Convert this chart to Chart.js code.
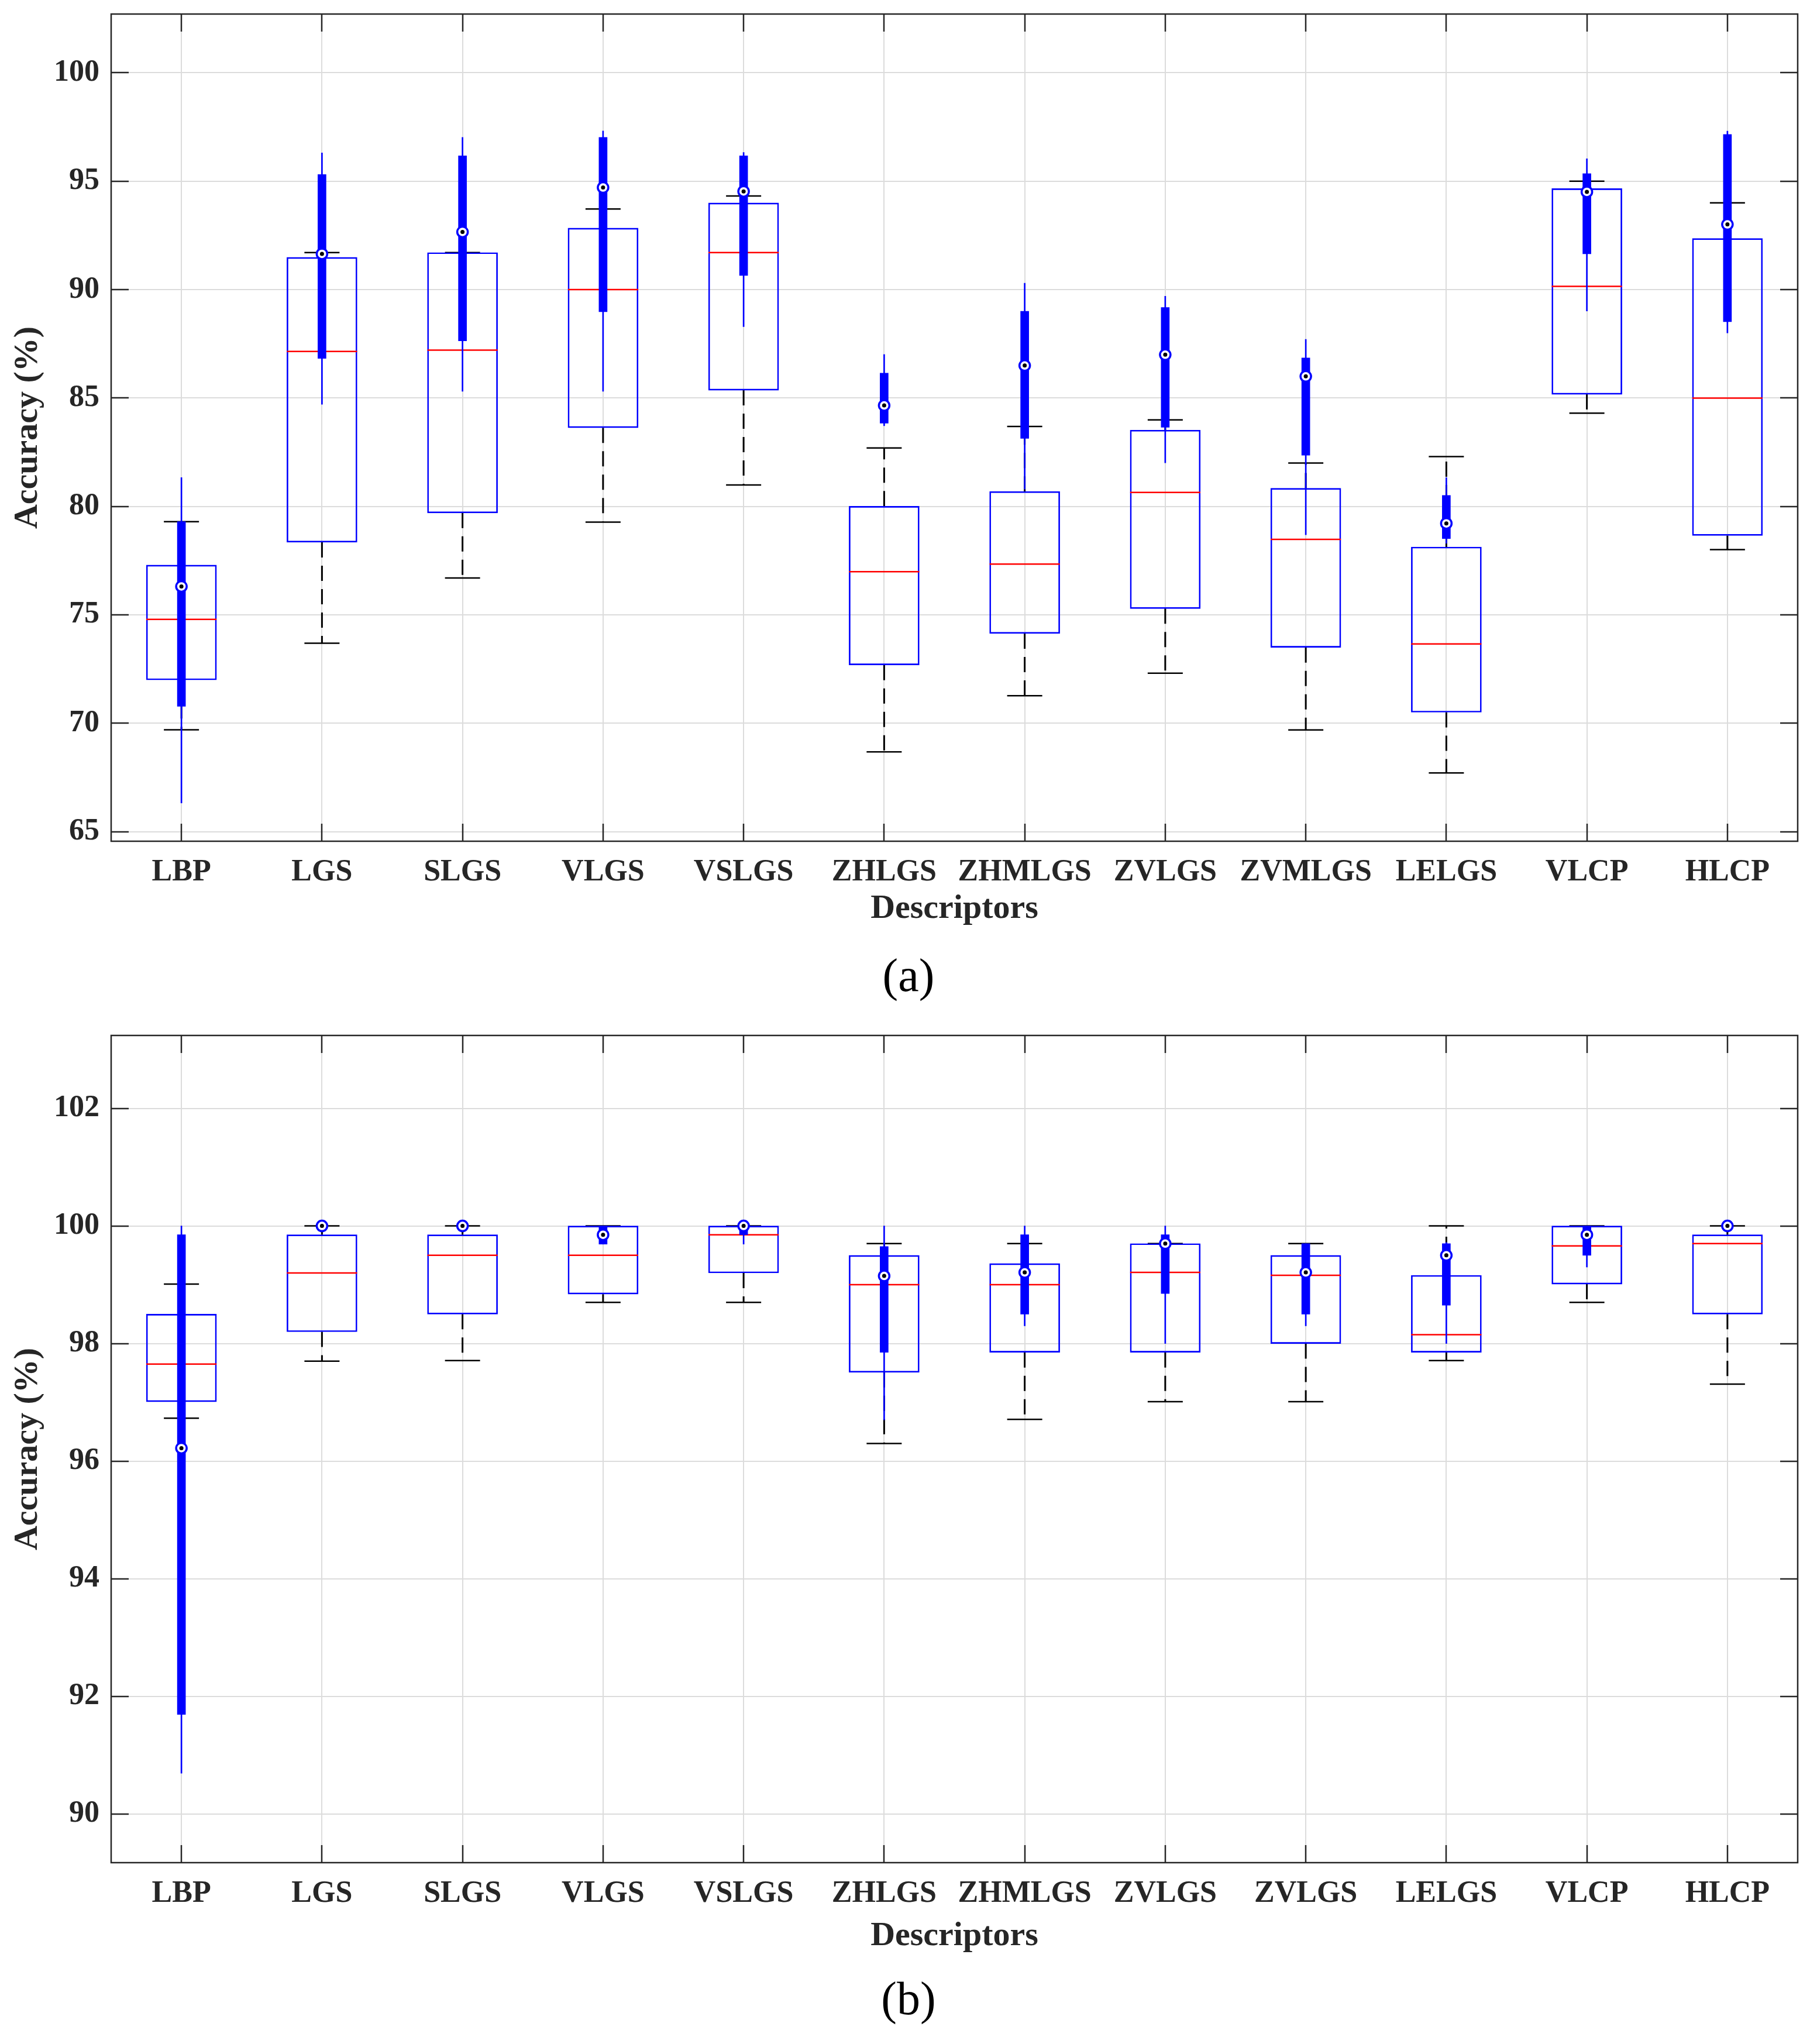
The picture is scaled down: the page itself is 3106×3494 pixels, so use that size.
<!DOCTYPE html>
<html>
<head>
<meta charset="utf-8">
<script src="https://cdn.jsdelivr.net/npm/chart.js@4.4.1/dist/chart.umd.min.js"></script>
<style>
  html, body { margin: 0; padding: 0; background: #fff; }
  body { width: 3106px; height: 3494px; position: relative; overflow: hidden; }
  canvas { position: absolute; left: 0; }
  #chart-a { top: 0; }
  #chart-b { top: 1720px; }
  .caption {
    position: absolute; left: 0; width: 3106px; text-align: center;
    font-family: 'Liberation Serif', serif; font-size: 80px; line-height: 80px; color: #000;
  }
</style>
</head>
<body>
<canvas id="chart-a" width="3106" height="1620"></canvas>
<div class="caption" style="top:1627px">(a)</div>
<canvas id="chart-b" width="3106" height="1656"></canvas>
<div class="caption" style="top:3376px">(b)</div>
<script>
/* ---------- data, panel (a) ---------- */
const labelsA = ['LBP', 'LGS', 'SLGS', 'VLGS', 'VSLGS', 'ZHLGS', 'ZHMLGS', 'ZVLGS', 'ZVMLGS', 'LELGS', 'VLCP', 'HLCP'];
const yTicksA = [65, 70, 75, 80, 85, 90, 95, 100];

// standard boxplot (blue box, red median, dashed whiskers)
const q1A     = [72.00, 78.35, 79.70, 83.63, 85.36, 72.69, 74.14, 75.29, 73.50, 70.51, 85.17, 78.66];
const medA    = [74.79, 87.15, 87.21, 90.00, 91.71, 76.99, 77.34, 80.65, 78.48, 73.66, 90.15, 85.00];
const q3A     = [77.30, 91.49, 91.71, 92.84, 94.00, 80.01, 80.69, 83.52, 80.84, 78.13, 94.66, 92.36];
const loCapA  = [69.70, 73.69, 76.70, 79.28, 80.99, 68.68, 71.27, 72.31, 69.69, 67.71, 84.30, 78.01];
const hiCapA  = [79.30, 91.71, 91.71, 93.72, 94.32, 82.70, 83.69, 83.99, 82.00, 82.30, 95.00, 94.00];

// compact boxplot (thick bar, thin whisker, circle)
const cLoA    = [66.32, 84.71, 85.31, 85.31, 88.29, 83.72, 80.80, 82.01, 78.69, 78.30, 89.01, 88.00];
const cQ1A    = [70.78, 86.83, 87.64, 88.98, 90.65, 83.84, 83.14, 83.65, 82.36, 78.52, 91.65, 88.52];
const cMedA   = [76.31, 91.65, 92.66, 94.71, 94.53, 84.66, 86.50, 87.00, 86.00, 79.22, 94.51, 93.01];
const cQ3A    = [79.30, 95.31, 96.17, 97.02, 96.17, 86.15, 89.00, 89.18, 86.85, 80.51, 95.35, 97.16];
const cHiA    = [81.33, 96.31, 97.02, 97.32, 96.33, 87.01, 90.30, 89.70, 87.71, 81.33, 96.04, 97.31];

/* ---------- data, panel (b) ---------- */
const labelsB = ['LBP', 'LGS', 'SLGS', 'VLGS', 'VSLGS', 'ZHLGS', 'ZHMLGS', 'ZVLGS', 'ZVLGS', 'LELGS', 'VLCP', 'HLCP'];
const yTicksB = [90, 92, 94, 96, 98, 100, 102];

const q1B     = [97.01, 98.20, 98.50, 98.84, 99.20, 97.51, 97.85, 97.85, 98.00, 97.85, 99.01, 98.50];
const medB    = [97.65, 99.20, 99.50, 99.50, 99.85, 99.00, 99.00, 99.21, 99.16, 98.15, 99.66, 99.70];
const q3B     = [98.50, 99.85, 99.85, 100.0, 100.0, 99.50, 99.36, 99.70, 99.50, 99.16, 100.0, 99.85];
const loCapB  = [96.73, 97.70, 97.71, 98.70, 98.70, 96.30, 96.71, 97.01, 97.01, 97.71, 98.70, 97.31];
const hiCapB  = [99.01, 100.0, 100.0, 100.0, 100.0, 99.70, 99.70, 99.70, 99.70, 100.0, 100.0, 100.0];

const cLoB    = [90.69, 99.90, 99.90, 99.69, 99.69, 96.70, 98.30, 98.00, 98.30, 98.00, 99.30, 99.90];
const cQ1B    = [91.69, 100.0, 100.0, 99.69, 99.85, 97.85, 98.50, 98.85, 98.50, 98.65, 99.50, 100.0];
const cMedB   = [96.22, 100.0, 100.0, 99.85, 100.0, 99.15, 99.21, 99.70, 99.21, 99.50, 99.85, 100.0];
const cQ3B    = [99.85, 100.0, 100.0, 100.0, 100.0, 99.65, 99.85, 99.85, 99.70, 99.70, 100.0, 100.0];
const cHiB    = [100.0, 100.0, 100.0, 100.0, 100.0, 100.0, 100.0, 100.0, 99.70, 99.72, 100.0, 100.0];

/* ---------- style ---------- */
const INK = '#262626';
const GRID = '#dcdcdc';
const BLUE = '#0000ff';
const RED = '#ff0000';
const FONT = "'Liberation Serif', 'Times New Roman', serif";
const TICK_LEN = 30;

Chart.defaults.font.family = FONT;

// helpers to turn the arrays into Chart.js points
const xy = (arr) => arr.map((v, i) => ({x: i, y: v}));
const span = (lo, hi) => lo.map((v, i) => ({x: i, y: [v, hi[i]]}));
function whiskers(lo, q1, q3, hi) {
    const pts = [];
    lo.forEach((v, i) => {
        pts.push({x: i, y: q3[i]}, {x: i, y: hi[i]}, {x: i, y: null});
        pts.push({x: i, y: q1[i]}, {x: i, y: v}, {x: i, y: null});
    });
    return pts;
}

// box frame + inward ticks on all four sides (MATLAB look)
const framePlugin = {
    id: 'frame',
    afterDraw(chart) {
        const {ctx, chartArea: a} = chart;
        const {x, y} = chart.scales;
        ctx.save();
        ctx.strokeStyle = INK;
        ctx.lineWidth = 2.5;
        ctx.beginPath();
        x.ticks.forEach(t => {
            const px = Math.round(x.getPixelForValue(t.value));
            ctx.moveTo(px, a.bottom); ctx.lineTo(px, a.bottom - TICK_LEN);
            ctx.moveTo(px, a.top); ctx.lineTo(px, a.top + TICK_LEN);
        });
        y.ticks.forEach(t => {
            const py = Math.round(y.getPixelForValue(t.value));
            ctx.moveTo(a.left, py); ctx.lineTo(a.left + TICK_LEN, py);
            ctx.moveTo(a.right, py); ctx.lineTo(a.right - TICK_LEN, py);
        });
        ctx.stroke();
        ctx.strokeRect(a.left, a.top, a.right - a.left, a.bottom - a.top);
        ctx.restore();
    }
};

function makeChart(id, p) {
    const ctx = document.getElementById(id).getContext('2d');
    const datasets = [
        { // dashed whiskers
            type: 'line', data: whiskers(p.lo, p.q1, p.q3, p.hi),
            borderColor: '#000', borderWidth: 3, borderDash: [26, 14],
            pointRadius: 0, spanGaps: false, fill: false, order: 9
        },
        { // whisker caps
            type: 'scatter', data: xy(p.lo).concat(xy(p.hi)),
            pointStyle: 'line', pointRadius: 30, pointBorderWidth: 2.5,
            pointBorderColor: '#000', order: 8
        },
        { // box
            type: 'bar', data: span(p.q1, p.q3), grouped: false, barThickness: 120,
            backgroundColor: 'rgba(0,0,0,0)', borderColor: BLUE, borderWidth: 2,
            borderSkipped: false, order: 7
        },
        { // median
            type: 'scatter', data: xy(p.med),
            pointStyle: 'line', pointRadius: 60, pointBorderWidth: 2.5,
            pointBorderColor: RED, order: 6
        },
        { // compact thin whisker
            type: 'bar', data: span(p.cLo, p.cHi), grouped: false, barThickness: 2,
            backgroundColor: BLUE, borderWidth: 0, order: 5
        },
        { // compact thick box
            type: 'bar', data: span(p.cQ1, p.cQ3), grouped: false, barThickness: 14,
            backgroundColor: BLUE, borderWidth: 0, order: 4
        },
        { // compact median circle
            type: 'scatter', data: xy(p.cMed),
            pointStyle: 'circle', pointRadius: 9, pointBorderWidth: 3.5,
            pointBackgroundColor: '#fff', pointBorderColor: BLUE, order: 3
        },
        { // centre dot
            type: 'scatter', data: xy(p.cMed),
            pointStyle: 'circle', pointRadius: 3.5, pointBorderWidth: 0,
            pointBackgroundColor: '#000', order: 2
        }
    ];

    return new Chart(ctx, {
        type: 'scatter',
        data: {datasets},
        options: {
            responsive: false,
            animation: false,
            devicePixelRatio: 1,
            events: [],
            layout: {autoPadding: false, padding: {top: p.topPad, right: 33, left: 0, bottom: 0}},
            plugins: {legend: {display: false}, tooltip: {enabled: false}},
            scales: {
                x: {
                    type: 'linear', min: -0.5, max: 11.5, offset: false,
                    grid: {color: GRID, lineWidth: 2, drawTicks: false, offset: false},
                    border: {display: false},
                    ticks: {
                        color: INK, padding: 22, autoSkip: false, maxRotation: 0, minRotation: 0,
                        font: {family: FONT, size: 52, weight: 'bold'},
                        callback: (v) => p.labels[v]
                    },
                    afterBuildTicks: (s) => { s.ticks = p.labels.map((_, i) => ({value: i})); },
                    afterFit: (s) => { s.height = p.xHeight; s.paddingLeft = 0; s.paddingRight = 0; },
                    title: {
                        display: true, text: 'Descriptors', color: INK,
                        font: {family: FONT, size: 58, weight: 'bold'},
                        padding: {top: 0, bottom: 31}
                    }
                },
                y: {
                    type: 'linear', min: p.yMin, max: p.yMax, beginAtZero: false,
                    grid: {color: GRID, lineWidth: 2, drawTicks: false},
                    border: {display: false},
                    ticks: {
                        color: INK, padding: 20,
                        font: {family: FONT, size: 52, weight: 'bold'},
                        callback: (v) => String(v)
                    },
                    afterBuildTicks: (s) => { s.ticks = p.yTicks.map(v => ({value: v})); },
                    afterFit: (s) => { s.width = 190; s.paddingTop = 0; s.paddingBottom = 0; },
                    title: {
                        display: true, text: 'Accuracy (%)', color: INK,
                        font: {family: FONT, size: 58, weight: 'bold'},
                        padding: {top: 13, bottom: 0}
                    }
                }
            }
        },
        plugins: [framePlugin]
    });
}

makeChart('chart-a', {
    labels: labelsA, yTicks: yTicksA, yMin: 64.56, yMax: 102.71, topPad: 24, xHeight: 182,
    q1: q1A, med: medA, q3: q3A, lo: loCapA, hi: hiCapA,
    cLo: cLoA, cQ1: cQ1A, cMed: cMedA, cQ3: cQ3A, cHi: cHiA
});

makeChart('chart-b', {
    labels: labelsB, yTicks: yTicksB, yMin: 89.17, yMax: 103.24, topPad: 50, xHeight: 192,
    q1: q1B, med: medB, q3: q3B, lo: loCapB, hi: hiCapB,
    cLo: cLoB, cQ1: cQ1B, cMed: cMedB, cQ3: cQ3B, cHi: cHiB
});
</script>
</body>
</html>
